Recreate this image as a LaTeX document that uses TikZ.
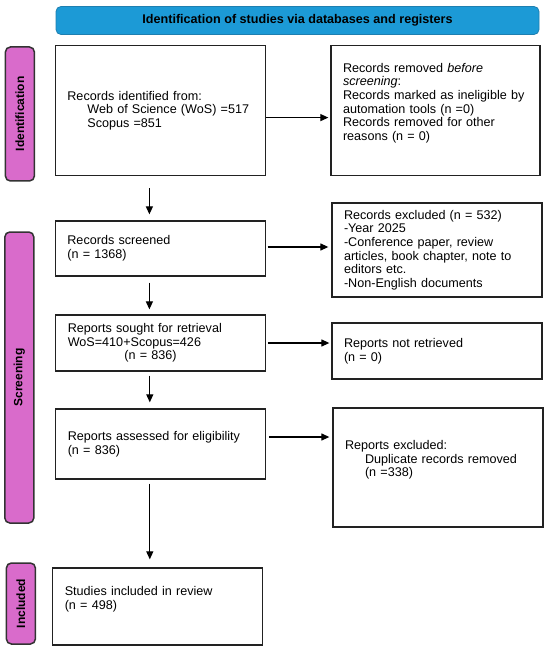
\documentclass[tikz,border=0pt]{standalone}
\usepackage{fontspec}
\setmainfont{Liberation Sans}
\usetikzlibrary{arrows.meta,calc}
\definecolor{bannerblue}{HTML}{1C9AD6}
\definecolor{bannerline}{HTML}{1E7FB0}
\definecolor{phasepink}{HTML}{D96BCB}
\definecolor{phaseline}{HTML}{333333}
\definecolor{boxline}{HTML}{222222}
\begin{document}
\begin{tikzpicture}[x=1pt,y=-1pt,
  every node/.style={font=\fontsize{12.6}{13.7}\selectfont},
  flowbox/.style={draw=boxline,line width=1.3pt,rectangle,inner xsep=12pt,inner ysep=0pt,
     text width=#1-24pt,align=left,minimum width=#1,anchor=center},
  phase/.style={draw=phaseline,fill=phasepink,line width=1.5pt,rounded corners=5pt,
     rotate=90,minimum height=29pt,inner sep=0pt,font=\bfseries\fontsize{12}{13}\selectfont},
  arr/.style={line width=1.2pt,-{Triangle[length=8pt,width=7pt]}}]
\useasboundingbox (0,0) rectangle (550,652);
% banner
\node[draw=bannerline,fill=bannerblue,line width=0.8pt,rounded corners=5pt,
  minimum width=483pt,minimum height=28pt,inner sep=0pt,font=\bfseries\fontsize{12.6}{13.7}\selectfont]
  (banner) at (297.5,20.5) {Identification of studies via databases and registers};
% phase labels
\node[phase,minimum width=134pt] (pid) at (19.9,114) {Identification};
\node[phase,minimum width=291pt] (pscr) at (19.3,377.5) {Screening};
\node[phase,minimum width=81pt] (pinc) at (20.9,603.5) {Included};
% boxes
\node[flowbox=210pt,minimum height=130pt] (ident) at (160.4,110.6)
  {Records identified from:\\ \hspace*{20pt}Web of Science (WoS) =517\\ \hspace*{20pt}Scopus =851};
\node[flowbox=209pt,minimum height=130pt] (removed) at (435.5,110.6)
  {Records removed \textit{before}\\ \textit{screening}:\\ Records marked as ineligible by\\ automation tools (n =0)\\ Records removed for other\\ reasons (n = 0)\\ \strut};
\node[flowbox=210pt,minimum height=55pt] (screened) at (160.4,248.5)
  {Records screened\\ (n = 1368)};
\node[flowbox=210pt,minimum height=94pt] (excluded) at (437,250)
  {Records excluded (n = 532)\\ -Year 2025\\ -Conference paper, review\\ articles, book chapter, note to\\ editors etc.\\ -Non-English documents};
\node[flowbox=210pt,minimum height=56pt] (sought) at (160.8,343)
  {Reports sought for retrieval\\ WoS=410+Scopus=426\\ \hspace*{56.6pt}(n = 836)};
\node[flowbox=210pt,minimum height=56pt] (notret) at (437,351)
  {Reports not retrieved\\ (n = 0)};
\node[flowbox=210pt,minimum height=70pt] (assessed) at (160.8,444)
  {Reports assessed for eligibility\\ (n = 836)};
\node[flowbox=210pt,minimum height=119pt] (repexcl) at (438,467.5)
  {Reports excluded:\\ \hspace*{20pt}Duplicate records removed\\ \hspace*{20pt}(n =338)\\ \strut};
\node[flowbox=210pt,minimum height=77pt] (included) at (157.8,606.5)
  {Studies included in review\\ (n = 498)\\ \strut};
% horizontal arrows
\draw[arr,shorten >=2pt] ([yshift=-7pt]ident.east) -- ([yshift=-7pt]ident.east -| removed.west);
\draw[arr,shorten <=1.5pt,shorten >=3pt] ([yshift=1.5pt]screened.east) -- ([yshift=1.5pt]screened.east -| excluded.west);
\draw[arr,shorten <=1.5pt,shorten >=2pt] (sought.east) -- (sought.east -| notret.west);
\draw[arr,shorten <=2.5pt,shorten >=3pt] ([yshift=7pt]assessed.east) -- ([yshift=7pt]assessed.east -| repexcl.west);
% vertical arrows
\draw[arr,shorten <=12pt,shorten >=6pt] ([xshift=-11pt]ident.south) -- ([xshift=-11pt]ident.south |- screened.north);
\draw[arr,shorten <=6pt,shorten >=5pt] ([xshift=-11pt]screened.south) -- ([xshift=-11pt]screened.south |- sought.north);
\draw[arr,shorten <=4pt,shorten >=6pt] ([xshift=-11pt]sought.south) -- ([xshift=-11pt]sought.south |- assessed.north);
\draw[arr,shorten <=4pt,shorten >=8pt] ([xshift=-11pt]assessed.south) -- ([xshift=-11pt]assessed.south |- included.north);
\end{tikzpicture}
\end{document}
